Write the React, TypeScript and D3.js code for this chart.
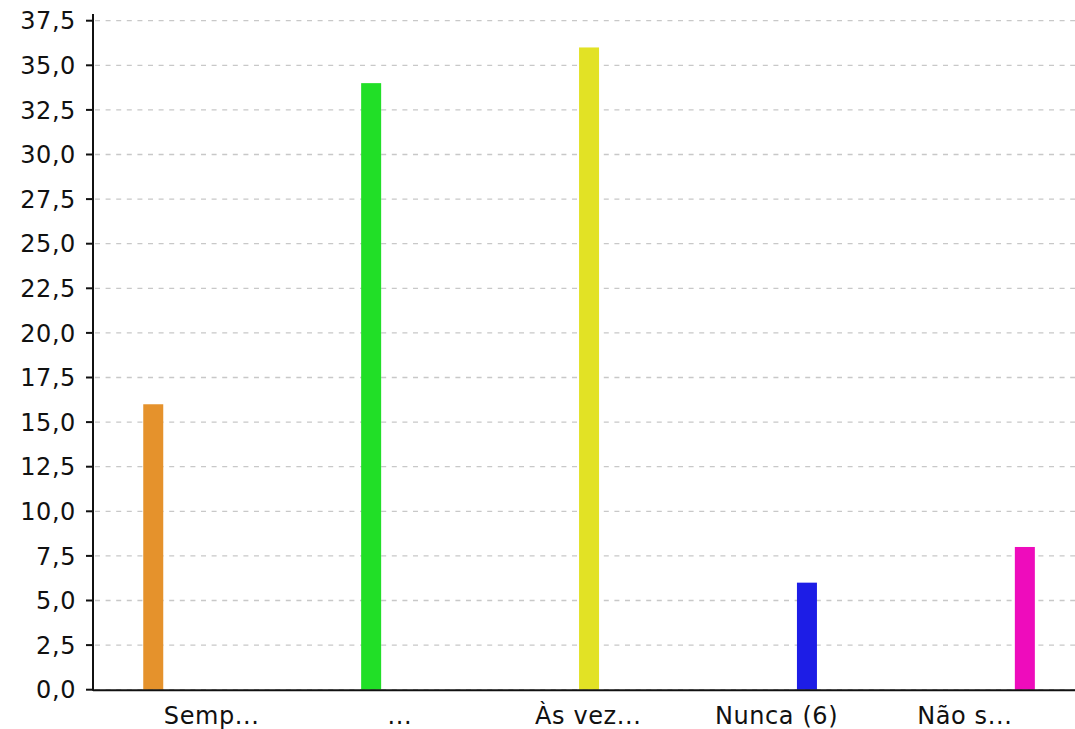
import * as d3 from 'd3'

const CATEGORIES = ['Semp...', '...', 'Às vez...', 'Nunca (6)', 'Não s...']
const VALUES = [16, 34, 36, 6, 8]
const COLORS = ['#e5922c', '#21df27', '#e2e225', '#1d1de6', '#ee0cbc']
const Y_TICKS = [0, 2.5, 5, 7.5, 10, 12.5, 15, 17.5, 20, 22.5, 25, 27.5, 30, 32.5, 35, 37.5]

const WIDTH = 1075
const HEIGHT = 729
const AXIS_X = 93
const AXIS_TOP = 14
const FONT = '"DejaVu Sans", sans-serif'

export default function App() {
  const y = d3.scaleLinear().domain([0, 37.5]).range([689.7, 20.7])
  // category bands used for labels; each category draws its own series slot
  const x = d3.scaleBand<string>().domain(CATEGORIES).range([117.5, 1059])
  const slot = d3
    .scalePoint<number>()
    .domain(d3.range(CATEGORIES.length))
    .range([-58.4, 60])
  const barWidth = 20
  const fmt = (v: number) => v.toFixed(1).replace('.', ',')

  return (
    <svg
      width={WIDTH}
      height={HEIGHT}
      style={{ position: 'absolute', left: 0, top: 0, background: '#fff' }}
      fontFamily={FONT}
    >
      {Y_TICKS.map((t) => (
        <g key={t}>
          <line
            x1={AXIS_X + 2}
            x2={WIDTH}
            y1={y(t)}
            y2={y(t)}
            stroke="#c8c8c8"
            strokeWidth={1.3}
            strokeDasharray="5 5.6"
          />
          <line x1={AXIS_X - 7} x2={AXIS_X} y1={y(t)} y2={y(t)} stroke="#111" strokeWidth={2} />
          <text
            x={76}
            y={y(t) + 8.6}
            textAnchor="end"
            fontSize={24}
            letterSpacing={0.6}
            fill="#111"
          >
            {fmt(t)}
          </text>
        </g>
      ))}

      {CATEGORIES.map((c, i) => {
        const cx = (x(c) ?? 0) + x.bandwidth() / 2 + (slot(i) ?? 0)
        return (
          <rect
            key={c}
            x={cx - barWidth / 2}
            y={y(VALUES[i])}
            width={barWidth}
            height={y(0) - y(VALUES[i])}
            fill={COLORS[i]}
          />
        )
      })}

      <line x1={AXIS_X} x2={AXIS_X} y1={AXIS_TOP} y2={y(0) + 1} stroke="#111" strokeWidth={2} />
      <line x1={AXIS_X} x2={WIDTH} y1={y(0) + 0.5} y2={y(0) + 0.5} stroke="#111" strokeWidth={2} />

      {CATEGORIES.map((c) => (
        <text
          key={c}
          x={(x(c) ?? 0) + x.bandwidth() / 2}
          y={723.5}
          textAnchor="middle"
          fontSize={24}
          letterSpacing={0.6}
          fill="#111"
        >
          {c}
        </text>
      ))}
    </svg>
  )
}
